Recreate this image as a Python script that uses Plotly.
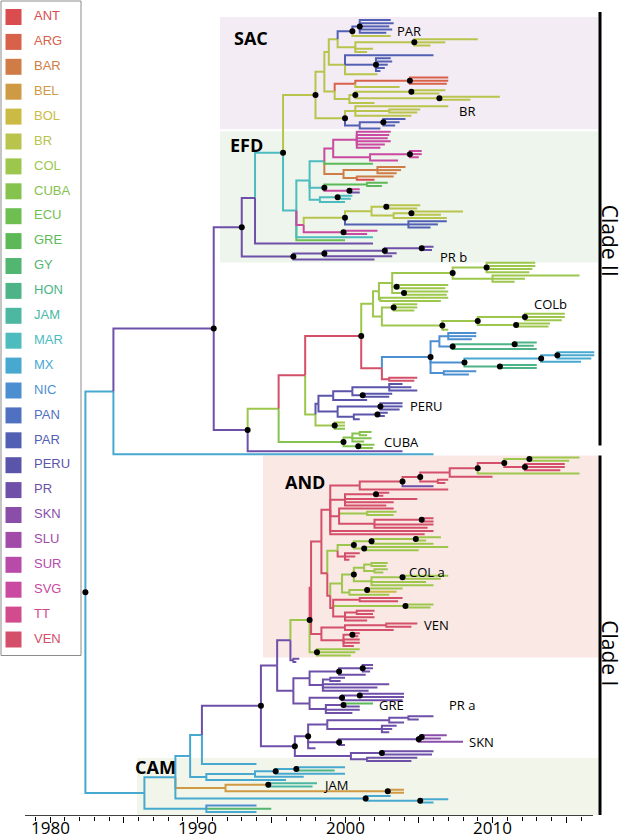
import plotly.graph_objects as go

# ---------------- data ----------------
COUNTRIES = ["ANT", "ARG", "BAR", "BEL", "BOL", "BR", "COL", "CUBA", "ECU", "GRE", "GY", "HON", "JAM",
             "MAR", "MX", "NIC", "PAN", "PAR", "PERU", "PR", "SKN", "SLU", "SUR", "SVG", "TT", "VEN"]
COUNTRY_COLORS = ["#d94c4f", "#d8614a", "#cf7c46", "#cf9a44", "#cbbb45", "#b8c44c", "#9dc74c", "#86c24e",
                  "#6fbe52", "#5db957", "#52b570", "#4eb488", "#4cb8a2", "#4cbcbf", "#48a9d0", "#4c8fd1",
                  "#5071c2", "#5260b4", "#5a55aa", "#6e50a9", "#8a4ea9", "#a14ca9", "#b84aa8", "#c94aa0",
                  "#d24c8d", "#d44f6a"]
DECADE_TICKS = [1980, 1990, 2000, 2010]
GROUP_NAMES = ["SAC", "EFD", "AND", "CAM"]
CLADE_NAMES = ["Clade II", "Clade I"]

# Tree: one node per line, indentation = depth.
# "CC year [*] [#tag]" = internal node (country, node date, * = well supported)
# "= CC y1 y2 ..."      = tips of country CC ending at dates y1, y2 ...
# "@NAME"               = insert sub-tree NAME
SAC_TREE = """
BR 1998.0 * #SAC
 BR 1998.6
  BR 1998.9
   BR 1999.5
    PAR 2000.5 * #PAR
     PAR 2001.0 *
      = PAR 2003.1 2003.3 2003.0 2003.2 2002.8
     = BR 2003.1
    BR 2000.7
     BR 2004.7 *
      = BR 2009.0 2006.8 2005.8
     = BR 2001.9 2001.5
   BR 2000.0
    = PAR 2006.0
    PAR 2002.1 *
     = PAR 2003.1 2003.2 2002.9 2002.7 2002.4
    = BR 2002.2
  BR 1999.3
   ARG 2000.7
    ARG 2004.4 *
     = ARG 2007.0 2007.0 2006.9
    = BR 2003.7
   BR 2000.3
    BR 2000.7 *
     BR 2004.5 *
      = BR 2006.8 2006.4
     BR 2006.4 *
      = BR 2010.5 2008.5
    = BR 2002.0
 BR 2000.0 *
  BR 2000.7 #BR
   = BR 2007.0
   BR 2003.0
    = BR 2005.1 2004.9
   = BR 2004.5
  PAR 2001.0
   PAR 2002.6 *
    = PAR 2004.1 2003.7 2003.4
   = PAR 2002.4
"""

EFD_TREE = """
MAR 1996.7 #EFD
 MAR 1997.6
  MAR 1998.6
   SVG 1999.2
    SVG 2000.8
     = SVG 2003.1 2003.0 2002.9 2003.1 2002.7 2002.4
    SVG 2001.7
     SVG 2004.4 *
      = SVG 2005.2 2005.2 2005.0
     = SVG 2003.6
   = GRE 2001.9
   BAR 1999.9
    BAR 2002.2
     = BAR 2004.1 2003.8 2003.5
    BAR 2000.8
     = BAR 2003.3
     = ANT 2002.0
  MAR 1998.6 *
   GRE 2001.5
    = GRE 2002.9 2002.5
   SVG 2000.3 *
    = SVG 2001.0
    = PR 2001.0
  MAR 1998.3
   MAR 1999.5 *
    = MAR 2000.5 2000.4
   = MAR 2000.0
 SVG 1997.2
  BR 2000.0 *
   BR 2001.8
    BR 2002.8 *
     = BR 2005.1 2004.9
    BR 2003.3
     BR 2004.5 *
      = BR 2008.0 2006.5
     = BR 2006.9
   PAR 2004.3
    = PAR 2006.9 2006.3 2005.8
  SVG 1999.9 *
   = SVG 2002.2 2001.5
 = MAR 2001.9
 = ECU 2000.0
"""

PRB_TREE = """
PR 1996.5 * #PRB
 PR 1998.6 *
  PR 2002.7 *
   PR 2005.2 *
    = PR 2006.0 2005.9
   = PR 2003.5
  = PR 2003.2
 = PR 2002.0
"""

CII_TOP_TREE = """
PR 1993.0 *
 PR 1993.9
  MAR 1995.8 *
   @SAC
   @EFD
  = PR 2001.9
 @PRB
"""

COLB_TREE = """
COL 2001.9 #COLB
 COL 2002.3
  COL 2003.2
   COL 2007.3 *
    COL 2009.6 *
     = COL 2012.9 2012.9 2012.7 2012.5
    COL 2010.0
     = COL 2015.9 2012.2 2011.5
   COL 2003.5 *
    = COL 2007.0 2006.8
   COL 2004.0 *
    = COL 2007.0 2006.9
  COL 2002.4
   = COL 2007.0 2006.5
 COL 2002.5
  COL 2003.3 *
   = COL 2004.9 2004.9 2004.7
  COL 2006.6 *
   COL 2009.0 *
    COL 2012.2 *
     = COL 2014.9 2014.9 2014.7
    COL 2011.6 *
     = COL 2013.9 2013.8
   = COL 2007.0
"""

N1_TREE = """
VEN 2002.5
 NIC 2005.8 *
  NIC 2006.4
   NIC 2007.0
    = NIC 2008.9 2008.9 2008.6
   NIC 2007.3 *
    HON 2011.5 *
     = HON 2013.0 2012.8
    = HON 2013.0
  NIC 2008.1 *
   MX 2013.3 *
    MX 2014.4 *
     = MX 2016.9 2016.9 2016.7
    = MX 2016.0
   HON 2010.5 *
    = HON 2013.0 2013.0
  NIC 2006.7
   = NIC 2008.9 2008.4
 VEN 2003.0
  = VEN 2004.9 2004.7
"""

PERU_TREE = """
COL 1998.0
 PERU 1998.2
  PERU 1999.2
   PERU 2000.5
    PERU 2003.0
     = PERU 2003.9 2004.5 2004.9
    PERU 2001.2 *
     = PERU 2003.2 2003.0
   = PERU 2001.5
  PERU 1999.5
   PERU 2002.4 * #PERU
    = PERU 2003.9 2003.9 2003.7
   PERU 2000.6
    PERU 2002.2 *
     = PERU 2002.9 2002.7
    = PERU 2001.0
 COL 1999.3 *
  = COL 2000.0 2000.0
  = CUBA 2000.0
"""

CUBA_TREE = """
CUBA 1999.9 * #CUBA
 CUBA 2000.5
  CUBA 2001.0
   = CUBA 2001.8 2001.5
  = CUBA 2001.8 2001.3
 CUBA 2000.9 *
  = CUBA 2002.0 2001.9
"""

CII_TREE = """
MX 1984.3
 PR 1991.1 *
  @CII_TOP
  PR 1993.4 *
   COL 1995.5
    VEN 1997.3
     VEN 2001.1 *
      @COLB
      @N1
     @PERU
    @CUBA
   = PR 2003.9
 = MX 2006.0
"""

AND_TREE = """
COL 1997.6 * #AND
 VEN 1997.7
  VEN 1998.4
   VEN 1999.0
    VEN 2001.0
     VEN 2003.9 *
      VEN 2005.1 *
       VEN 2007.1
        VEN 2009.0 *
         VEN 2010.8 *
          COL 2012.5 *
           = COL 2015.9 2015.2
          VEN 2012.2 *
           = VEN 2014.9 2014.9 2014.6
         = COL 2015.9
        = VEN 2010.0
       VEN 2006.3
        = VEN 2007.0 2006.8
      = PR 2006.0
     = VEN 2007.0
    VEN 2000.0
     VEN 2002.1 *
      = VEN 2003.0 2002.6
     = VEN 2004.9 2003.3 2002.8
    VEN 1999.6
     = VEN 2003.3
     COL 2001.5
      = COL 2003.5 2003.3
     VEN 2002.0
      VEN 2005.2 *
       = VEN 2006.0 2006.0
      = VEN 2006.0 2005.6
    = VEN 2006.0 2005.4
   VEN 1998.8
    COL 1999.5
     COL 2000.6 *
      COL 2001.8 *
       COL 2004.8 *
        = COL 2006.5 2005.5
       = COL 2006.0
      COL 2001.3 *
       = COL 2007.0 2005.0
     VEN 2000.0
      = VEN 2001.0 2000.7 2000.3
    VEN 1999.0
     COL 1999.8
      COL 2000.6 *
       COL 2001.3
        COL 2001.8
         = COL 2002.9 2002.8
        COL 2002.0
         = COL 2002.9 2002.6
       COL 2001.8
        COL 2003.9 * #COLA
         = COL 2007.0 2006.5
        = COL 2005.5 2006.0
      COL 2000.3
       COL 2001.5 *
        = COL 2003.9
        = BOL 2003.5
       = COL 2003.0
     VEN 1999.2
      VEN 2001.0
       = VEN 2003.9 2003.6
      COL 2004.1 *
       = COL 2006.0 2005.8
      VEN 2000.0
       VEN 2000.8
        = VEN 2002.0 2001.9
       = VEN 2002.0 2001.5
  VEN 1998.4
   VEN 2000.0
    VEN 2002.8 #VEN
     = VEN 2004.9 2004.5
    = VEN 2003.3
   VEN 1999.9
    VEN 2000.5 *
     = VEN 2001.0 2000.9
    = VEN 2001.0 2001.0 2000.6
 COL 1998.1 *
  = COL 2001.0 2000.7 2000.4
"""

PRA_TREE = """
PR 1996.5 #PRA
 PR 1997.6
  PR 1999.6 *
   PR 2001.2 *
    = PR 2001.9 2001.9 2001.7
   = PR 2001.4
  PR 1998.5
   PR 1999.0
    = PR 2000.0 1999.7
   = PR 2003.0 2002.2 2001.6
 PR 1997.6
  PR 1999.8 *
   PR 2001.0 *
    = PR 2004.0 2004.0
   = PR 2003.9
  PR 1998.7
   PR 1999.9 * #GRE
    = GRE 2001.9
    = PR 2001.0
   = PR 2001.0 2000.5
"""

SKN_TREE = """
PR 1996.6 *
 PR 1997.5 *
  PR 1998.8
   PR 2003.0
    PR 2004.3
     = PR 2006.0 2005.0
    = PR 2004.0
   PR 2002.5
    = PR 2003.5 2003.2 2003.0
  PR 1999.6 *
   PR 2005.0 *
    SKN 2005.2 *
     = SKN 2006.9 2006.5
    = SKN 2008.0 #SKN
   = PR 2000.0
  = PR 1998.0
 PR 2000.4
  PR 2002.5 *
   = PR 2006.0 2005.9
  PR 2001.5
   = PR 2004.9 2004.5
"""

CI_TREE = """
MX 1986.4
 MX 1988.5
  MX 1989.5
   MX 1990.3
    PR 1994.3 *
     PR 1995.4
      PR 1996.3
       @AND
       PR 1996.5
        = PR 1996.9 1996.7
      @PRA
     @SKN
    = MX 1994.0 #CAMTOP
   MX 1990.6
    MX 1993.9
     MX 1995.3 *
      MX 1996.7 *
       = MX 2000.0
       = HON 1999.3
      = MX 2000.0
     = MX 1997.2
    = MX 1996.0
  BEL 1991.9
   BEL 1994.8 * #JAM
    = JAM 1998.1 1997.8
   BEL 2002.9 *
    = BEL 2004.0 2004.0
  MX 2001.4 *
   = MX 2003.1
   MX 2005.1 *
    = MX 2007.0 2006.0
 MX 1990.6
  = NIC 1994.0
  = GY 1995.0
  = MX 1994.0
"""

ROOT_TREE = """
MX 1982.4 *
 @CII
 @CI
"""

SUBTREES = {"SAC": SAC_TREE, "EFD": EFD_TREE, "PRB": PRB_TREE, "CII_TOP": CII_TOP_TREE,
            "COLB": COLB_TREE, "N1": N1_TREE, "PERU": PERU_TREE, "CUBA": CUBA_TREE,
            "CII": CII_TREE, "AND": AND_TREE, "PRA": PRA_TREE, "SKN": SKN_TREE, "CI": CI_TREE}

# clade labels: (text, tag of node they sit next to, year of left edge)
CLADE_LABELS = [("PAR", "PAR", 2003.4), ("BR", "BR", 2007.6), ("PR b", "PRB", 2006.3),
                ("COLb", "COLB", 2012.7), ("PERU", "PERU", 2004.3), ("CUBA", "CUBA", 2002.5),
                ("COL a", "COLA", 2004.2), ("VEN", "VEN", 2005.2), ("GRE", "GRE", 2002.2),
                ("PR a", "GRE", 2006.9), ("SKN", "SKN", 2008.3), ("JAM", "JAM", 1998.4)]

# ---------------- layout constants (pixels) ----------------
W, H = 624, 838
AXIS_PX = 816
PX_PER_YEAR = 14.75
X1980_PX = 50
TIP_TOP, TIP_BOTTOM = 20, 812


def px2yr(px):
    return 1980 + (px - X1980_PX) / PX_PER_YEAR


# ---------------- parse tree ----------------
def parse(text):
    root, stack = None, []
    for raw in text.splitlines():
        if not raw.strip():
            continue
        ind = len(raw) - len(raw.lstrip(" "))
        parts = raw.split()
        while stack and stack[-1][0] >= ind:
            stack.pop()
        parent = stack[-1][1] if stack else None
        if parts[0].startswith("@"):
            parent["ch"].append(parse(SUBTREES[parts[0][1:]]))
            continue
        if parts[0] == "=":
            cc = parts[1]
            for tok in parts[2:]:
                if tok.startswith("#"):
                    parent["ch"][-1]["tag"] = tok[1:]
                else:
                    parent["ch"].append(dict(c=cc, t=float(tok), dot=False, tag=None, ch=[]))
            continue
        node = dict(c=parts[0], t=float(parts[1]), dot="*" in parts[2:], tag=None, ch=[])
        for tok in parts[2:]:
            if tok.startswith("#"):
                node["tag"] = tok[1:]
        if parent is None:
            root = node
        else:
            parent["ch"].append(node)
        stack.append((ind, node))
    return root


tree = parse(ROOT_TREE)

leaves = []


def collect(n):
    if not n["ch"]:
        leaves.append(n)
    for c in n["ch"]:
        collect(c)


collect(tree)
step = (TIP_BOTTOM - TIP_TOP) / (len(leaves) - 1)
for i, lf in enumerate(leaves):
    lf["y"] = TIP_TOP + i * step

tags = {}


def sety(n):
    if n["ch"]:
        for c in n["ch"]:
            sety(c)
        n["y"] = (n["ch"][0]["y"] + n["ch"][-1]["y"]) / 2
        n["ymin"] = n["ch"][0]["ymin"]
        n["ymax"] = n["ch"][-1]["ymax"]
    else:
        n["ymin"] = n["ymax"] = n["y"]
    if n["tag"]:
        tags[n["tag"]] = n


sety(tree)

segs = {c: ([], []) for c in COUNTRIES}
dot_x, dot_y = [], []


def walk(n):
    if n["dot"]:
        dot_x.append(n["t"])
        dot_y.append(n["y"])
    for c in n["ch"]:
        xs, ys = segs[c["c"]]
        xs += [n["t"], n["t"], c["t"], None]
        ys += [n["y"], c["y"], c["y"], None]
        walk(c)


walk(tree)

# ---------------- figure ----------------
fig = go.Figure()

color_of = dict(zip(COUNTRIES, COUNTRY_COLORS))
for c in COUNTRIES:
    xs, ys = segs[c]
    if xs:
        fig.add_trace(go.Scatter(x=xs, y=ys, mode="lines", line=dict(color=color_of[c], width=2),
                                 hoverinfo="skip", showlegend=False))
fig.add_trace(go.Scatter(x=dot_x, y=dot_y, mode="markers", marker=dict(color="black", size=6),
                         hoverinfo="skip", showlegend=False))

# legend (drawn)
LEG_TOP, LEG_STEP = 17, 24.9
leg_y = [LEG_TOP + i * LEG_STEP for i in range(len(COUNTRIES))]
fig.add_trace(go.Scatter(x=[px2yr(13.5)] * len(COUNTRIES), y=leg_y, mode="markers",
                         marker=dict(symbol="square", size=16, color=COUNTRY_COLORS, line=dict(width=0)),
                         hoverinfo="skip", showlegend=False))
fig.add_trace(go.Scatter(x=[px2yr(34)] * len(COUNTRIES), y=leg_y, mode="text", text=COUNTRIES,
                         textposition="middle right",
                         textfont=dict(family="Liberation Sans", size=13, color=COUNTRY_COLORS),
                         hoverinfo="skip", showlegend=False))

shapes = []
shapes.append(dict(type="rect", xref="x", yref="y", x0=px2yr(1), x1=px2yr(81), y0=1,
                   y1=leg_y[-1] + 16, line=dict(color="#8c8c8c", width=1), fillcolor="rgba(0,0,0,0)"))

# group boxes
x_end = px2yr(598)
sac_top = tags["SAC"]["ymin"] - 3
mid = (tags["SAC"]["ymax"] + tags["EFD"]["ymin"]) / 2
efd_bot = tags["PRB"]["ymax"] + 3
and_top = tags["AND"]["ymin"] - 2
and_bot = tags["AND"]["ymax"] + 2
cam_top = tags["CAMTOP"]["y"] - 6
cam_bot = AXIS_PX - 1
boxes = [
    ("SAC", px2yr(220), sac_top, mid - 1, "#f4ecf4", 21),
    ("EFD", px2yr(220), mid + 1, efd_bot, "#eef5ec", 14),
    ("AND", px2yr(263), and_top, and_bot, "#fae8e5", 26),
    ("CAM", px2yr(137), cam_top, cam_bot, "#f2f6ea", 9),
]
annotations = []
label_left = {"SAC": px2yr(232), "EFD": px2yr(228), "AND": px2yr(283), "CAM": px2yr(133)}
for name, x0, y0, y1, col, dy in boxes:
    shapes.append(dict(type="rect", xref="x", yref="y", x0=x0, x1=x_end, y0=y0, y1=y1,
                       fillcolor=col, line=dict(width=0), layer="below"))
    annotations.append(dict(x=label_left[name], y=y0 + dy, xref="x", yref="y", text="<b>%s</b>" % name,
                            showarrow=False, xanchor="left", yanchor="middle",
                            font=dict(family="Open Sans", size=18, color="black")))

# clade bars
bar_x = px2yr(600)
bars = [(CLADE_NAMES[0], sac_top - 5, and_top - 10, 12), (CLADE_NAMES[1], and_top, cam_bot, 18)]
for name, y0, y1, off in bars:
    shapes.append(dict(type="line", xref="x", yref="y", x0=bar_x, x1=bar_x, y0=y0, y1=y1,
                       line=dict(color="black", width=3)))
    annotations.append(dict(x=px2yr(610), y=(y0 + y1) / 2 + off, xref="x", yref="y", text=name,
                            textangle=90, showarrow=False, xanchor="center", yanchor="middle",
                            font=dict(family="Open Sans", size=21, color="black")))

# axis line
shapes.append(dict(type="line", xref="x", yref="y", x0=px2yr(25), x1=px2yr(593), y0=AXIS_PX, y1=AXIS_PX,
                   line=dict(color="black", width=1.5)))

# decade tick labels (placed just under the ticks, paper coordinates)
plot_h = AXIS_PX
for yr in DECADE_TICKS:
    annotations.append(dict(x=yr, y=-11 / plot_h, xref="x", yref="paper", text=str(yr), showarrow=False,
                            xanchor="center", yanchor="middle",
                            font=dict(family="Open Sans", size=17, color="black")))

for text, tag, xl in CLADE_LABELS:
    dy = -5 if tag == "COLA" else 0
    annotations.append(dict(x=xl, y=tags[tag]["y"] + dy, xref="x", yref="y", text=text, showarrow=False,
                            xanchor="left", yanchor="middle",
                            font=dict(family="Open Sans", size=13, color="black")))

major = list(range(1980, 2016, 5))
fig.update_layout(
    width=W, height=H, autosize=False,
    margin=dict(l=0, r=0, t=0, b=H - AXIS_PX, pad=0),
    paper_bgcolor="white", plot_bgcolor="white",
    shapes=shapes, annotations=annotations, showlegend=False,
    xaxis=dict(range=[px2yr(0), px2yr(W)], showgrid=False, zeroline=False, showline=False,
               tickmode="array", tickvals=major, showticklabels=False,
               ticks="outside", ticklen=6, tickwidth=1.3, tickcolor="black",
               minor=dict(tickvals=[v for v in range(1979, 2017) if v % 5], ticks="outside",
                          ticklen=4, tickwidth=1, tickcolor="black", showgrid=False),
               automargin=False, fixedrange=True),
    yaxis=dict(range=[AXIS_PX, 0], visible=False, automargin=False, fixedrange=True),
)

fig.write_html("out.html", config={"displayModeBar": False},
               post_script="document.body.style.margin='0';document.body.style.overflow='hidden';")
